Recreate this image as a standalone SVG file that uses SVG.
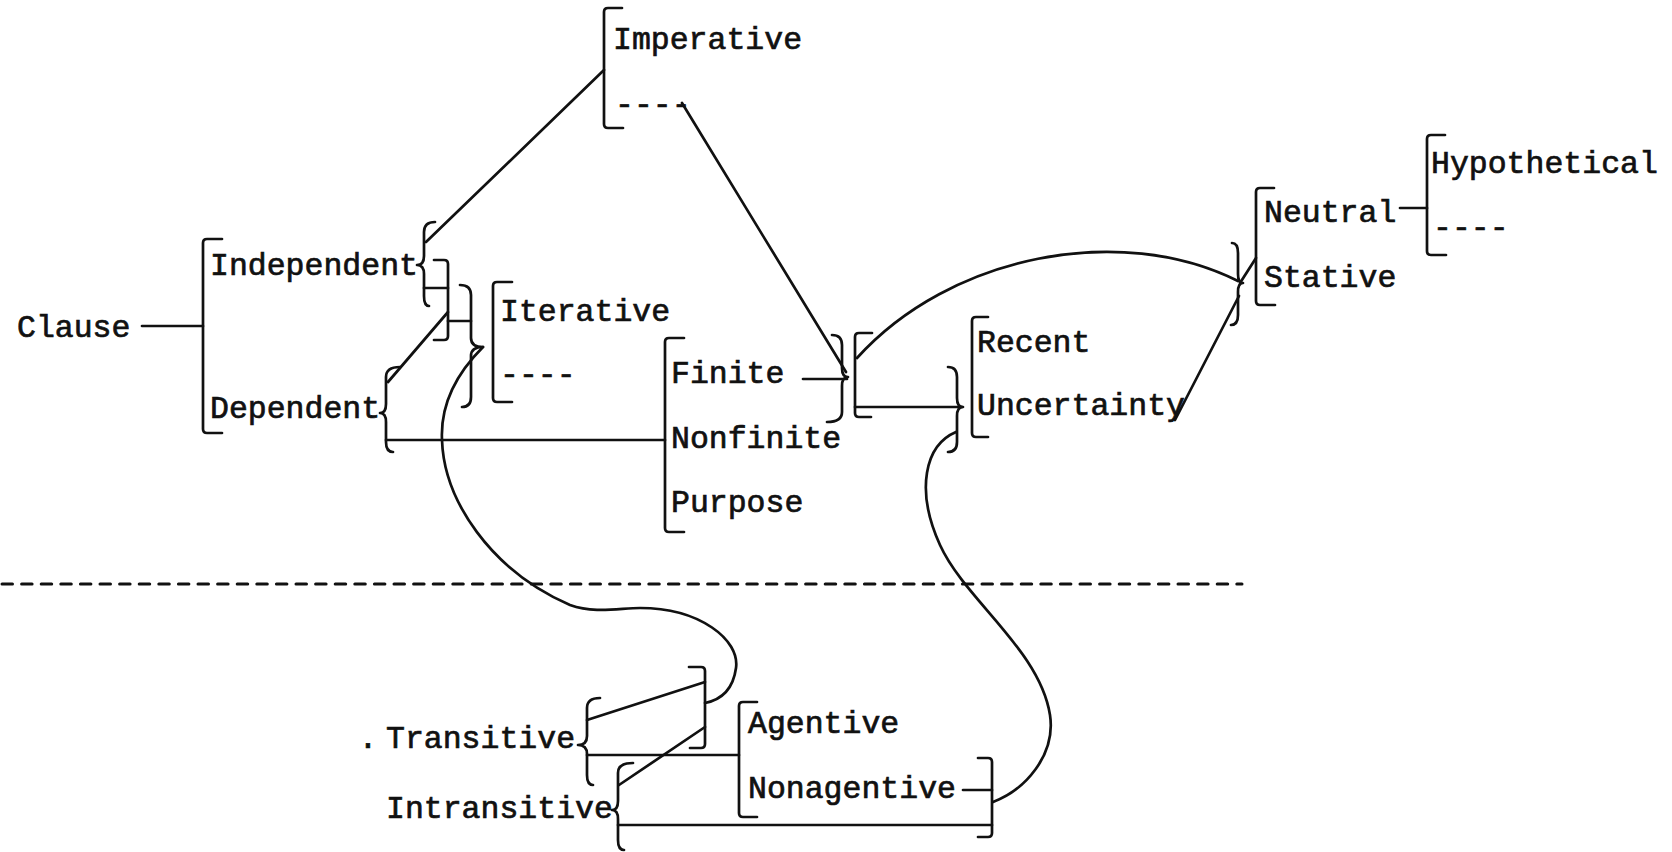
<svg xmlns="http://www.w3.org/2000/svg" width="1672" height="852" viewBox="0 0 1672 852">
  <style>
    .t { font-family: "Liberation Mono", "DejaVu Sans Mono", monospace; font-size: 31.5px; fill: #111; stroke: #111; stroke-width: 0.7px; }
    .s { fill: none; stroke: #111; stroke-width: 2.7; stroke-linecap: round; stroke-linejoin: round; }
    .sep { fill: none; stroke: #111; stroke-width: 3; stroke-dasharray: 10.5 9.1; }
  </style>
  <rect width="1672" height="852" fill="#fff"/>

  <!-- connectors -->
  <g id="connectors" class="s">
    <path d="M142,326 L203,326"/>
    <path d="M426,242 L604,70"/>
    <path d="M424,288 L448,288"/>
    <path d="M448,312 L388,382"/>
    <path d="M448,321 L471,321"/>
    <path d="M386,440 L665,440"/>
    <path d="M483,347 C460,370 440,400 442,440 C444,500 490,570 570,605 C595,614 620,608 640,608 C700,608 740,640 736,668 C733,690 720,700 705,703"/>
    <path d="M682,103 L846,372"/>
    <path d="M803,379 L847,379"/>
    <path d="M857,358 C950,255 1120,222 1238,281"/>
    <path d="M855,407 L962,407"/>
    <path d="M956,432 C925,445 915,490 940,545 C965,600 1040,650 1050,715 C1056,755 1025,790 993,802"/>
    <path d="M1175,420 L1239,296"/>
    <path d="M1240,283 L1256,258"/>
    <path d="M1400,208 L1427,208"/>
    <path d="M587,720 L705,682"/>
    <path d="M705,727 L619,785"/>
    <path d="M587,755 L739,755"/>
    <path d="M618,825 L992,825"/>
    <path d="M963,790 L992,790"/>
    <path class="sep" d="M2,584 L1242,584"/>
  </g>

  <!-- junction braces -->
  <g id="brace-independent" class="s"><path d="M435,222 Q424,222 424,232 L424,256 Q424,265 417,265 Q424,265 424,274 L424,296 Q424,306 429,306"/></g>
  <g id="bracket-join" class="s"><path d="M434,260 L444,260 Q448,260 448,264 L448,336 Q448,340 444,340 L434,340"/></g>
  <g id="brace-dependent" class="s"><path d="M400,367 Q386,367 386,377 L386,404 Q386,413 380,413 Q386,413 386,422 L386,442 Q386,452 393,452"/></g>
  <g id="brace-iterative" class="s"><path d="M460,285 Q471,285 471,295 L471,338 Q471,347 483,347 Q471,347 471,356 L471,397 Q471,407 462,407"/></g>
  <g id="brace-finite" class="s"><path d="M832,335 Q842,335 842,345 L842,368 Q842,377 848,377 Q842,377 842,386 L842,412 Q842,422 827,422"/></g>
  <g id="bracket-tense" class="s"><path d="M872,333 L859,333 Q855,333 855,337 L855,413 Q855,417 859,417 L871,417"/></g>
  <g id="brace-uncertainty" class="s"><path d="M948,367 Q957,367 957,377 L957,398 Q957,407 963,407 Q957,407 957,416 L957,442 Q957,452 948,452"/></g>
  <g id="brace-stative" class="s"><path d="M1232,243 Q1238,243 1238,253 L1238,274 Q1238,283 1243,283 Q1238,283 1238,292 L1238,315 Q1238,325 1231,325"/></g>
  <g id="brace-transitive" class="s"><path d="M600,698 Q587,698 587,708 L587,736 Q587,745 578,745 Q587,745 587,754 L587,775 Q587,785 593,785"/></g>
  <g id="bracket-transitivity" class="s"><path d="M689,667 L701,667 Q705,667 705,671 L705,744 Q705,748 701,748 L690,748"/></g>
  <g id="brace-intransitive" class="s"><path d="M633,763 Q618,763 618,773 L618,801 Q618,810 612,810 Q618,810 618,819 L618,840 Q618,850 624,850"/></g>
  <g id="bracket-nonagentive" class="s"><path d="M978,758 L988,758 Q992,758 992,762 L992,833 Q992,837 988,837 L978,837"/></g>

  <!-- nodes -->
  <g id="clause">
    <text class="t" x="17" y="337">Clause</text>
  </g>
  <g id="clause-type">
    <path class="s" d="M222,239 L207,239 Q203,239 203,243 L203,429 Q203,433 207,433 L222,433"/>
    <text class="t" x="210" y="275">Independent</text>
    <text class="t" x="210" y="418">Dependent</text>
  </g>
  <g id="mood">
    <path class="s" d="M622,8 L608,8 Q604,8 604,12 L604,124 Q604,128 608,128 L623,128"/>
    <text class="t" x="613" y="49">Imperative</text>
    <text class="t" x="615" y="114">----</text>
  </g>
  <g id="aspect">
    <path class="s" d="M512,282 L497,282 Q493,282 493,286 L493,398 Q493,402 497,402 L512,402"/>
    <text class="t" x="500" y="321">Iterative</text>
    <text class="t" x="500" y="384">----</text>
  </g>
  <g id="finiteness">
    <path class="s" d="M684,338 L669,338 Q665,338 665,342 L665,528 Q665,532 669,532 L684,532"/>
    <text class="t" x="671" y="383">Finite</text>
    <text class="t" x="671" y="448">Nonfinite</text>
    <text class="t" x="671" y="512">Purpose</text>
  </g>
  <g id="modality">
    <path class="s" d="M988,317 L976,317 Q972,317 972,321 L972,433 Q972,437 976,437 L988,437"/>
    <text class="t" x="977" y="352">Recent</text>
    <text class="t" x="977" y="415">Uncertainty</text>
  </g>
  <g id="state">
    <path class="s" d="M1274,188 L1260,188 Q1256,188 1256,192 L1256,301 Q1256,305 1260,305 L1275,305"/>
    <text class="t" x="1264" y="222">Neutral</text>
    <text class="t" x="1264" y="287">Stative</text>
  </g>
  <g id="neutral-options">
    <path class="s" d="M1445,135 L1431,135 Q1427,135 1427,139 L1427,251 Q1427,255 1431,255 L1446,255"/>
    <text class="t" x="1431" y="173">Hypothetical</text>
    <text class="t" x="1433" y="237">----</text>
  </g>
  <g id="transitivity">
    <text class="t" x="368" y="748" text-anchor="middle">.</text>
    <text class="t" x="386" y="748">Transitive</text>
    <text class="t" x="386" y="818">Intransitive</text>
  </g>
  <g id="agency">
    <path class="s" d="M757,702 L743,702 Q739,702 739,706 L739,813 Q739,817 743,817 L757,817"/>
    <text class="t" x="748" y="733">Agentive</text>
    <text class="t" x="748" y="798">Nonagentive</text>
  </g>
</svg>
